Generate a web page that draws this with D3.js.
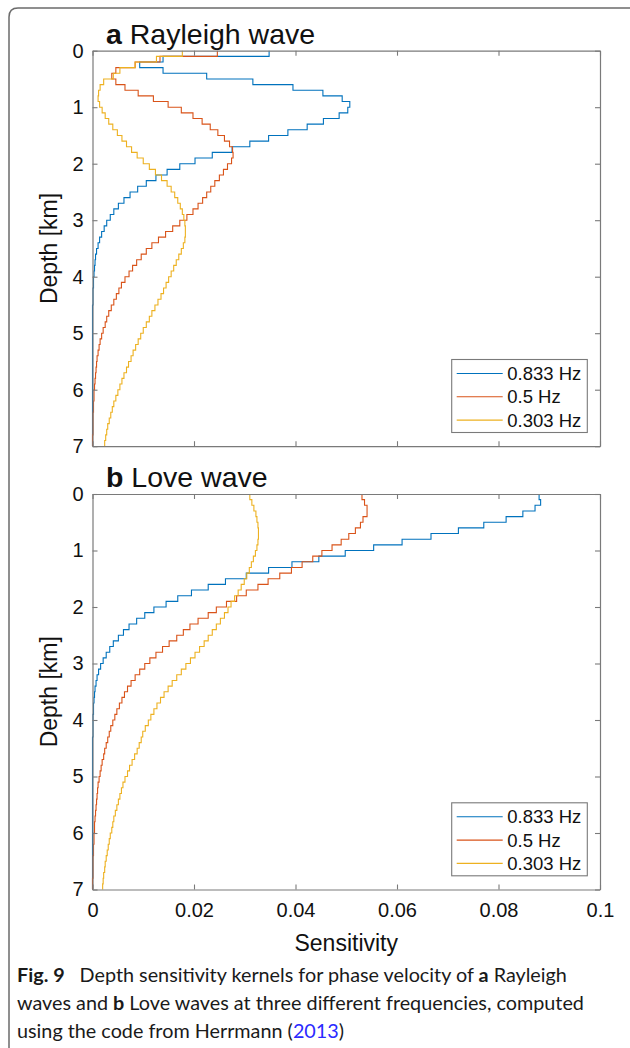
<!DOCTYPE html>
<html>
<head>
<meta charset="utf-8">
<script src="https://cdn.jsdelivr.net/npm/d3@7"></script>
<style>
	html, body { margin: 0; padding: 0; background: #fff; }
	svg { display: block; }
</style>
</head>
<body>
<script>

// depth of the top of each model layer [km]; the last layer ends at MAX_DEPTH
const LAYER_TOPS = [
	0, 0.1, 0.2, 0.3, 0.4, 0.5, 0.6, 0.7, 0.8, 0.9,
	1, 1.1, 1.2, 1.3, 1.4, 1.5, 1.6, 1.7, 1.8, 1.9,
	2, 2.1, 2.2, 2.3, 2.4, 2.5, 2.6, 2.7, 2.8, 2.9,
	3, 3.1, 3.2, 3.3, 3.4, 3.5, 3.6, 3.7, 3.8, 3.9,
	4, 4.1, 4.2, 4.3, 4.4, 4.5, 4.6, 4.7, 4.8, 4.9,
	5, 5.1, 5.2, 5.3, 5.4, 5.5, 5.6, 5.7, 5.8, 5.9,
	6, 6.1, 6.2, 6.3, 6.4, 6.5, 6.6, 6.7, 6.8, 6.9
];
const MAX_DEPTH = 7;

const FREQ_LABELS = ['0.833 Hz', '0.5 Hz', '0.303 Hz'];

// a: Rayleigh wave sensitivity per layer
const rayleigh0833 = [
	0.0348, 0.0139, 0.0093, 0.0139, 0.0225, 0.0316, 0.0395, 0.0454, 0.0492, 0.0507,
	0.0503, 0.0486, 0.0455, 0.0423, 0.0385, 0.0347, 0.0310, 0.0275, 0.0236, 0.0202,
	0.0172, 0.0147, 0.0125, 0.0106, 0.0089, 0.0074, 0.0062, 0.0051, 0.0042, 0.0035,
	0.0028, 0.0023, 0.0018, 0.0014, 0.0011, 0.0008, 0.0006, 0.0005, 0.0004, 0.0003,
	0.0002, 0.0002, 0.0001, 0.0001, 0.0001, 0, 0, 0, 0, 0,
	0, 0, 0, 0, 0, 0, 0, 0, 0, 0,
	0, 0, 0, 0, 0, 0, 0, 0, 0, 0
];
const rayleigh05 = [
	0.0246, 0.0133, 0.0084, 0.0046, 0.0038, 0.0046, 0.0064, 0.0090, 0.0120, 0.0149,
	0.0175, 0.0198, 0.0216, 0.0232, 0.0247, 0.0260, 0.0270, 0.0276, 0.0277, 0.0274,
	0.0266, 0.0258, 0.0250, 0.0241, 0.0233, 0.0225, 0.0217, 0.0208, 0.0198, 0.0186,
	0.0172, 0.0158, 0.0144, 0.0130, 0.0117, 0.0106, 0.0096, 0.0087, 0.0079, 0.0072,
	0.0064, 0.0057, 0.0052, 0.0047, 0.0042, 0.0037, 0.0032, 0.0028, 0.0025, 0.0021,
	0.0018, 0.0015, 0.0013, 0.0011, 0.0009, 0.0008, 0.0007, 0.0006, 0.0005, 0.0004,
	0.0003, 0.0003, 0.0002, 0.0002, 0.0001, 0.0001, 0.0001, 0.0001, 0, 0
];
const rayleigh0303 = [
	0.0177, 0.0126, 0.0084, 0.0054, 0.0041, 0.0022, 0.0015, 0.0012, 0.0011, 0.0014,
	0.0019, 0.0025, 0.0032, 0.0040, 0.0049, 0.0058, 0.0067, 0.0077, 0.0088, 0.0100,
	0.0112, 0.0124, 0.0136, 0.0147, 0.0155, 0.0162, 0.0168, 0.0173, 0.0177, 0.0180,
	0.0182, 0.0183, 0.0183, 0.0182, 0.0179, 0.0175, 0.0170, 0.0165, 0.0160, 0.0155,
	0.0150, 0.0145, 0.0140, 0.0135, 0.0129, 0.0123, 0.0117, 0.0112, 0.0106, 0.0100,
	0.0095, 0.0090, 0.0085, 0.0080, 0.0076, 0.0071, 0.0067, 0.0062, 0.0058, 0.0054,
	0.0050, 0.0046, 0.0042, 0.0039, 0.0036, 0.0033, 0.0030, 0.0028, 0.0026, 0.0024
];

// b: Love wave sensitivity per layer
const love0833 = [
	0.0880, 0.0883, 0.0872, 0.0848, 0.0815, 0.0771, 0.0721, 0.0667, 0.0610, 0.0554,
	0.0498, 0.0446, 0.0393, 0.0347, 0.0303, 0.0262, 0.0228, 0.0195, 0.0168, 0.0145,
	0.0121, 0.0103, 0.0087, 0.0072, 0.0061, 0.0051, 0.0041, 0.0034, 0.0027, 0.0021,
	0.0016, 0.0012, 0.0009, 0.0007, 0.0005, 0.0004, 0.0003, 0.0002, 0.0002, 0.0001,
	0.0001, 0.0001, 0.0001, 0, 0, 0, 0, 0, 0, 0,
	0, 0, 0, 0, 0, 0, 0, 0, 0, 0,
	0, 0, 0, 0, 0, 0, 0, 0, 0, 0
];
const love05 = [
	0.0531, 0.0536, 0.0541, 0.0541, 0.0533, 0.0528, 0.0518, 0.0505, 0.0490, 0.0472,
	0.0452, 0.0434, 0.0413, 0.0392, 0.0369, 0.0346, 0.0326, 0.0303, 0.0284, 0.0264,
	0.0244, 0.0228, 0.0208, 0.0192, 0.0179, 0.0166, 0.0151, 0.0138, 0.0125, 0.0113,
	0.0103, 0.0093, 0.0084, 0.0076, 0.0069, 0.0063, 0.0058, 0.0053, 0.0048, 0.0044,
	0.0040, 0.0036, 0.0033, 0.0030, 0.0027, 0.0024, 0.0022, 0.0019, 0.0017, 0.0015,
	0.0013, 0.0011, 0.0010, 0.0009, 0.0008, 0.0007, 0.0006, 0.0005, 0.0004, 0.0004,
	0.0003, 0.0003, 0.0002, 0.0002, 0.0001, 0.0001, 0.0001, 0.0001, 0, 0
];
const love0303 = [
	0.0310, 0.0314, 0.0318, 0.0322, 0.0324, 0.0326, 0.0327, 0.0327, 0.0326, 0.0324,
	0.0321, 0.0317, 0.0313, 0.0309, 0.0304, 0.0299, 0.0293, 0.0287, 0.0280, 0.0273,
	0.0267, 0.0260, 0.0252, 0.0244, 0.0236, 0.0228, 0.0220, 0.0211, 0.0202, 0.0193,
	0.0184, 0.0175, 0.0166, 0.0157, 0.0149, 0.0141, 0.0134, 0.0127, 0.0121, 0.0115,
	0.0110, 0.0104, 0.0099, 0.0096, 0.0092, 0.0088, 0.0083, 0.0078, 0.0073, 0.0069,
	0.0064, 0.0060, 0.0057, 0.0054, 0.0051, 0.0048, 0.0045, 0.0042, 0.0040, 0.0038,
	0.0035, 0.0033, 0.0031, 0.0029, 0.0027, 0.0025, 0.0024, 0.0022, 0.0021, 0.0020
];

const X_TICKS = [0, 0.02, 0.04, 0.06, 0.08, 0.1];
const X_TICK_LABELS = ['0', '0.02', '0.04', '0.06', '0.08', '0.1'];
const Y_TICKS = [0, 1, 2, 3, 4, 5, 6, 7];

const W = 630,
	H = 1048,
	PLOT_LEFT = 92.5,
	PLOT_RIGHT = 600,
	PLOT_HEIGHT = 395.5,
	TICK_LEN = 5,
	AXIS_COLOR = '#7a7a7a',
	TEXT_COLOR = '#111',
	CHART_FONT = '"Liberation Sans", Arial, Helvetica, sans-serif',
	LINE_COLORS = ['#0072BD', '#D95319', '#EDB120'];

const panels = [
	{ letter: 'a', title: 'Rayleigh wave', top: 50.7, series: [rayleigh0833, rayleigh05, rayleigh0303], showXLabels: false },
	{ letter: 'b', title: 'Love wave', top: 494, series: [love0833, love05, love0303], showXLabels: true }
];

const svg = d3.select('body').append('svg')
	.attr('width', W)
	.attr('height', H)
	.attr('font-family', CHART_FONT);

// page frame (top and left edges of the figure box)
svg.append('path')
	.attr('d', 'M9,' + H + ' V17 Q9,8 18,8 H' + W)
	.attr('fill', 'none')
	.attr('stroke', '#6b6b6b')
	.attr('stroke-width', 1.5);

const x = d3.scaleLinear().domain([0, 0.1]).range([PLOT_LEFT, PLOT_RIGHT]);

panels.forEach(panel => drawPanel(panel));

function drawPanel (panel) {

	let y = d3.scaleLinear().domain([0, MAX_DEPTH]).range([panel.top, panel.top + PLOT_HEIGHT]),
		bottom = panel.top + PLOT_HEIGHT,
		g = svg.append('g');

	// layered kernels drawn as stairs: vertical inside a layer, horizontal at its base
	let line = d3.line()
		.x(d => x(d.v))
		.y(d => y(d.depth))
		.curve(d3.curveStepBefore);

	panel.series.forEach((values, i) => {
		let pts = values.map((v, k) => ({ v: v, depth: LAYER_TOPS[k] }));
		pts.push({ v: values[values.length - 1], depth: MAX_DEPTH });
		g.append('path')
			.datum(pts)
			.attr('d', line)
			.attr('fill', 'none')
			.attr('stroke', LINE_COLORS[i])
			.attr('stroke-width', 1.1)
			.attr('stroke-linejoin', 'miter');
	});

	// axes with inward ticks on all four sides (box on)
	let axes = [
		{ axis: d3.axisBottom(x).tickValues(X_TICKS).tickFormat((d, i) => panel.showXLabels ? X_TICK_LABELS[i] : ''), at: 'translate(0,' + bottom + ')', padding: 13 },
		{ axis: d3.axisTop(x).tickValues(X_TICKS).tickFormat(''), at: 'translate(0,' + panel.top + ')', padding: 0 },
		{ axis: d3.axisLeft(y).tickValues(Y_TICKS).tickFormat(d3.format('d')), at: 'translate(' + PLOT_LEFT + ',0)', padding: 9 },
		{ axis: d3.axisRight(y).tickValues(Y_TICKS).tickFormat(''), at: 'translate(' + PLOT_RIGHT + ',0)', padding: 0 }
	];

	axes.forEach(a => {
		let ag = g.append('g')
			.attr('transform', a.at)
			.call(a.axis.tickSizeInner(-TICK_LEN).tickSizeOuter(0).tickPadding(a.padding));
		ag.select('.domain').attr('stroke', AXIS_COLOR).attr('stroke-width', 1.2);
		ag.selectAll('.tick line').attr('stroke', AXIS_COLOR).attr('stroke-width', 1.1);
		ag.selectAll('.tick text')
			.attr('fill', TEXT_COLOR)
			.attr('font-size', 20)
			.attr('font-family', CHART_FONT);
	});

	// y label
	g.append('text')
		.attr('transform', 'translate(57,' + (panel.top + PLOT_HEIGHT / 2) + ') rotate(-90)')
		.attr('text-anchor', 'middle')
		.attr('font-size', 23)
		.attr('fill', TEXT_COLOR)
		.text('Depth [km]');

	// panel title
	let title = g.append('text')
		.attr('x', 106)
		.attr('y', panel.top - 7)
		.attr('font-size', 28.5)
		.attr('fill', TEXT_COLOR);
	title.append('tspan').attr('font-weight', 'bold').text(panel.letter);
	title.append('tspan').text(' ' + panel.title);

	// legend, bottom-right inside the axes
	let lw = 135.6, lh = 73,
		lx = PLOT_RIGHT - 12.7 - lw,
		ly = bottom - 13.7 - lh,
		legend = g.append('g').attr('transform', 'translate(' + lx + ',' + ly + ')');

	legend.append('rect')
		.attr('width', lw)
		.attr('height', lh)
		.attr('fill', '#fff')
		.attr('stroke', AXIS_COLOR)
		.attr('stroke-width', 1.1);

	FREQ_LABELS.forEach((label, i) => {
		let cy = 14 + i * 23.3;
		legend.append('line')
			.attr('x1', 5).attr('x2', 51)
			.attr('y1', cy).attr('y2', cy)
			.attr('stroke', LINE_COLORS[i])
			.attr('stroke-width', 1.1);
		legend.append('text')
			.attr('x', 55.5)
			.attr('y', cy)
			.attr('dy', '0.35em')
			.attr('font-size', 18.5)
			.attr('fill', TEXT_COLOR)
			.text(label);
	});

}

// x label under panel b
svg.append('text')
	.attr('x', (PLOT_LEFT + PLOT_RIGHT) / 2)
	.attr('y', 951)
	.attr('text-anchor', 'middle')
	.attr('font-size', 23)
	.attr('fill', TEXT_COLOR)
	.text('Sensitivity');

// figure caption
const CAPTION_FONT = 'Lato, "Open Sans", "Noto Sans", sans-serif';
const captionLines = [
	[{ t: 'Fig. 9', b: true }, { t: '\u2002 Depth sensitivity kernels for phase velocity of ' }, { t: 'a', b: true }, { t: ' Rayleigh' }],
	[{ t: 'waves and ' }, { t: 'b', b: true }, { t: ' Love waves at three different frequencies, computed' }],
	[{ t: 'using the code from Herrmann (' }, { t: '2013', link: true }, { t: ')' }]
];

captionLines.forEach((parts, i) => {
	let txt = svg.append('text')
		.attr('x', 17)
		.attr('y', 982 + i * 28)
		.attr('font-family', CAPTION_FONT)
		.attr('font-size', 19.8)
		.attr('fill', '#1a1a1a');
	parts.forEach(p => {
		txt.append('tspan')
			.attr('font-weight', p.b ? 'bold' : null)
			.attr('fill', p.link ? '#2b2bff' : null)
			.text(p.t);
	});
});

</script>
</body>
</html>
